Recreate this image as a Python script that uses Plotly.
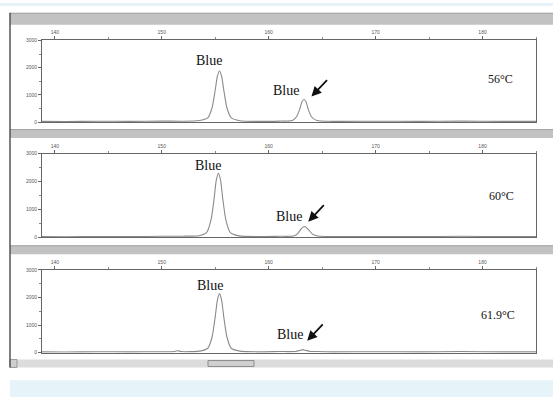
import plotly.graph_objects as go

W, H = 553, 400

# ---------------- data ----------------
x_ticks = [140, 150, 160, 170, 180]
y_ticks = [0, 1000, 2000, 3000]
temps = ["56°C", "60°C", "61.9°C"]

x1 = [138.8, 141, 144, 147, 150, 152, 153.5, 154.3, 154.7, 155.0, 155.2, 155.4, 155.6, 155.8,
      156.1, 156.5, 157.3, 159, 161, 162.2, 162.6, 162.9, 163.1, 163.3, 163.5, 163.7, 164.0,
      164.5, 166, 170, 174, 178, 182, 185]
y1 = [30, 25, 35, 30, 40, 35, 60, 160, 520, 1180, 1680, 1880, 1680, 1180,
      520, 160, 55, 30, 40, 60, 200, 470, 740, 830, 740, 470, 200,
      60, 30, 35, 30, 40, 30, 30]

x2 = [138.8, 141, 144, 147, 150, 152, 153.5, 154.2, 154.6, 154.9, 155.1, 155.3, 155.5, 155.7,
      156.0, 156.4, 157.2, 159, 161, 162.3, 162.7, 163.0, 163.2, 163.4, 163.7, 164.1,
      164.6, 166, 170, 174, 178, 182, 185]
y2 = [30, 25, 35, 30, 40, 45, 60, 180, 620, 1400, 2050, 2300, 2050, 1400,
      620, 180, 55, 30, 40, 50, 130, 290, 370, 390, 290, 120,
      50, 30, 35, 30, 40, 30, 30]

x3 = [138.8, 141, 144, 147, 150, 151.2, 151.5, 151.8, 153.5, 154.3, 154.7, 155.0, 155.2, 155.4,
      155.6, 155.8, 156.1, 156.5, 157.3, 159, 161, 162.5, 162.9, 163.2, 163.5, 163.9,
      164.5, 166, 170, 174, 178, 182, 185]
y3 = [30, 25, 35, 30, 35, 45, 70, 40, 55, 160, 560, 1300, 1900, 2140,
      1900, 1300, 560, 160, 55, 30, 40, 45, 80, 110, 80, 45,
      40, 30, 35, 30, 40, 30, 30]

traces_x = [x1, x2, x3]
traces_y = [y1, y2, y3]

# label positions (data units) for "Blue" labels, arrows and temperatures
blue1_pos = [(154.4, 2274), (154.3, 2576), (154.5, 2429)]
blue2_pos = [(161.6, 1155), (161.9, 741), (162.0, 643)]
arrow_head = [(164.0, 939), (163.7, 565), (163.6, 429)]
temp_pos = [(181.7, 1588), (181.8, 1482), (181.4, 1357)]

# ---------------- layout helpers ----------------
def px(xp):
    return xp / W

def py(yp):
    return 1 - yp / H

panels_px = [(38, 121), (153, 238), (271, 355)]
X0, X1 = 42, 536

fig = go.Figure()
layout = dict(
    width=W, height=H, margin=dict(l=0, r=0, t=0, b=0),
    paper_bgcolor="white", plot_bgcolor="white", showlegend=False,
)

annotations = []
for i in range(3):
    n = "" if i == 0 else str(i + 1)
    fig.add_trace(go.Scatter(
        x=traces_x[i], y=traces_y[i], mode="lines",
        line=dict(color="#8a8a8a", width=1.1, shape="spline", smoothing=0.6),
        xaxis="x" + n, yaxis="y" + n, hoverinfo="skip"))
    top, bot = panels_px[i]
    layout["xaxis" + n] = dict(
        domain=[px(X0), px(X1)], range=[138.8, 185], anchor="y" + n, side="top",
        tickvals=x_ticks, ticktext=[str(v) for v in x_ticks],
        ticks="outside", ticklen=3, tickcolor="#666", tickwidth=1,
        minor=dict(dtick=5, tick0=140, ticks="outside", ticklen=2, tickcolor="#888"),
        tickfont=dict(size=5, color="#555", family="Liberation Sans"),
        showline=True, linecolor="#666", linewidth=1, mirror=True,
        showgrid=False, zeroline=False, fixedrange=True)
    layout["yaxis" + n] = dict(
        domain=[py(bot), py(top)], range=[0, 3000], anchor="x" + n,
        tickvals=y_ticks, ticktext=[str(v) for v in y_ticks],
        ticks="outside", ticklen=3, tickcolor="#666", tickwidth=1,
        minor=dict(dtick=500, ticks="outside", ticklen=2, tickcolor="#888"),
        tickfont=dict(size=5, color="#555", family="Liberation Sans"),
        showline=True, linecolor="#666", linewidth=1, mirror=True,
        showgrid=False, zeroline=False, fixedrange=True)

    xr, yr = "x" + n, "y" + n
    tf = dict(family="Liberation Serif", size=14, color="#111")
    annotations.append(dict(x=blue1_pos[i][0], y=blue1_pos[i][1], xref=xr, yref=yr,
                            text="Blue", showarrow=False, font=tf))
    annotations.append(dict(x=blue2_pos[i][0], y=blue2_pos[i][1], xref=xr, yref=yr,
                            text="Blue", showarrow=False, font=tf))
    annotations.append(dict(x=arrow_head[i][0], y=arrow_head[i][1], xref=xr, yref=yr,
                            text="", showarrow=True, arrowhead=2, arrowsize=1.1,
                            arrowwidth=1.8, arrowcolor="#111", ax=17, ay=-18))
    annotations.append(dict(x=temp_pos[i][0], y=temp_pos[i][1], xref=xr, yref=yr,
                            text=temps[i], showarrow=False,
                            font=dict(family="Liberation Serif", size=12, color="#111")))

shapes = []
# top light-blue strip and bottom caption box
shapes.append(dict(type="rect", xref="paper", yref="paper", x0=0, x1=1, y0=py(3), y1=1,
                   fillcolor="#e6f3f9", line=dict(width=0)))
shapes.append(dict(type="rect", xref="paper", yref="paper", x0=px(10), x1=1, y0=0, y1=py(383),
                   fillcolor="#e6f3f9", line=dict(width=0)))
# gray bars
for (a, b) in [(10, 22), (128, 137), (246, 255)]:
    shapes.append(dict(type="rect", xref="paper", yref="paper", x0=px(10), x1=1,
                       y0=py(b), y1=py(a), fillcolor="#c2c2c2", line=dict(width=0)))
    shapes.append(dict(type="line", xref="paper", yref="paper", x0=px(10), x1=1,
                       y0=py(a + 0.5), y1=py(a + 0.5), line=dict(color="#a4a4a4", width=1)))
# scrollbar
shapes.append(dict(type="rect", xref="paper", yref="paper", x0=px(10), x1=1,
                   y0=py(370), y1=py(362), fillcolor="#dcdcdc", line=dict(width=0)))
shapes.append(dict(type="rect", xref="paper", yref="paper", x0=px(10), x1=px(17),
                   y0=py(370), y1=py(362), fillcolor="#cfcfcf", line=dict(color="#999", width=1)))
shapes.append(dict(type="rect", xref="paper", yref="paper", x0=px(208), x1=px(254),
                   y0=py(369), y1=py(363), fillcolor="#d0d0d0", line=dict(color="#8a8a8a", width=1)))
# left window border
shapes.append(dict(type="line", xref="paper", yref="paper", x0=px(10), x1=px(10),
                   y0=py(370), y1=py(10), line=dict(color="#555", width=1.5)))

layout["shapes"] = shapes
layout["annotations"] = annotations
fig.update_layout(**layout)
fig.write_html("out.html")
